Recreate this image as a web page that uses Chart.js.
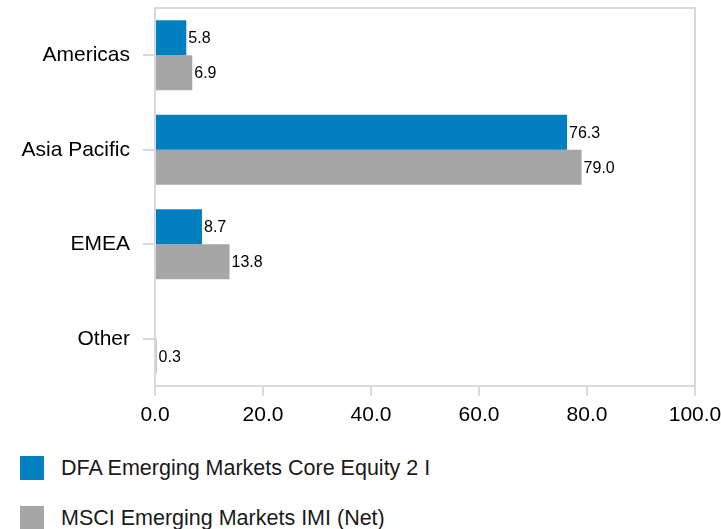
<!DOCTYPE html>
<html>
<head>
<meta charset="utf-8">
<script src="https://cdn.jsdelivr.net/npm/chart.js@4"></script>
<style>
  html, body { margin: 0; padding: 0; background: #fff; }
  #wrap { position: relative; width: 721px; height: 440px; }
  #legend { position: absolute; left: 20px; top: 456px; font-family: Arial, "Liberation Sans", sans-serif; font-size: 21.5px; color: #1a1a1a; }
  #legend .item { display: flex; align-items: center; height: 24px; margin-bottom: 26px; }
  #legend .box { width: 24px; height: 24px; margin-right: 17px; }
</style>
</head>
<body>
<div id="wrap"><canvas id="chart"></canvas></div>
<div id="legend"></div>
<script>
const categories = ['Americas', 'Asia Pacific', 'EMEA', 'Other'];
const seriesNames = ['DFA Emerging Markets Core Equity 2 I', 'MSCI Emerging Markets IMI (Net)'];
const fundValues = [5.8, 76.3, 8.7, null];
const indexValues = [6.9, 79.0, 13.8, 0.3];
const seriesColors = ['#0080c0', '#a6a6a6'];
const xTicks = [0, 20, 40, 60, 80, 100];

const FONT = 'Arial, "Liberation Sans", sans-serif';

// value labels at the end of each bar
const barLabels = {
    id: 'barLabels',
    afterDatasetsDraw(chart) {
        const ctx = chart.ctx;
        ctx.save();
        ctx.font = '16px ' + FONT;
        ctx.fillStyle = '#000';
        ctx.textBaseline = 'middle';
        ctx.textAlign = 'left';
        chart.data.datasets.forEach((ds, i) => {
            const meta = chart.getDatasetMeta(i);
            meta.data.forEach((bar, j) => {
                const v = ds.data[j];
                if (v == null) return;
                ctx.fillText(v.toFixed(1), bar.x + 2, bar.y + 1);
            });
        });
        ctx.restore();
    },
};

// light frame round the plot area
const plotFrame = {
    id: 'plotFrame',
    afterDraw(chart) {
        const a = chart.chartArea;
        const ctx = chart.ctx;
        ctx.save();
        ctx.strokeStyle = '#d9d9d9';
        ctx.lineWidth = 2;
        ctx.strokeRect(a.left, a.top, a.right - a.left, a.bottom - a.top);
        ctx.restore();
    },
};

new Chart(document.getElementById('chart'), {
    type: 'bar',
    data: {
        labels: categories,
        datasets: [
            { label: seriesNames[0], data: fundValues, backgroundColor: seriesColors[0] },
            { label: seriesNames[1], data: indexValues, backgroundColor: seriesColors[1] },
        ],
    },
    plugins: [barLabels, plotFrame],
    options: {
        indexAxis: 'y',
        responsive: true,
        maintainAspectRatio: false,
        animation: false,
        layout: { padding: { top: 8, right: 26, left: 0, bottom: 0 } },
        datasets: { bar: { categoryPercentage: 0.74, barPercentage: 1.0 } },
        plugins: { legend: { display: false }, tooltip: { enabled: false } },
        scales: {
            x: {
                min: 0,
                max: 100,
                afterBuildTicks: (s) => { s.ticks = xTicks.map((v) => ({ value: v })); },
                afterFit: (s) => { s.height = 54; s.paddingLeft = 0; s.paddingRight = 0; },
                ticks: {
                    color: '#000',
                    font: { family: FONT, size: 21 },
                    padding: 7,
                    maxRotation: 0,
                    callback: (v) => Number(v).toFixed(1),
                },
                grid: { drawOnChartArea: false, drawTicks: true, tickLength: 10, color: '#d9d9d9', lineWidth: 2 },
                border: { display: false },
            },
            y: {
                afterFit: (s) => { s.width = 155; s.paddingTop = 0; s.paddingBottom = 0; },
                ticks: {
                    color: '#000',
                    font: { family: FONT, size: 21 },
                    padding: 13,
                },
                grid: { offset: false, drawOnChartArea: false, drawTicks: true, tickLength: 12, color: '#d9d9d9', lineWidth: 2 },
                border: { display: false },
            },
        },
    },
});

const legend = document.getElementById('legend');
seriesNames.forEach((name, i) => {
    const item = document.createElement('div');
    item.className = 'item';
    item.innerHTML = '<span class="box" style="background:' + seriesColors[i] + '"></span><span>' + name + '</span>';
    legend.appendChild(item);
});
</script>
</body>
</html>
